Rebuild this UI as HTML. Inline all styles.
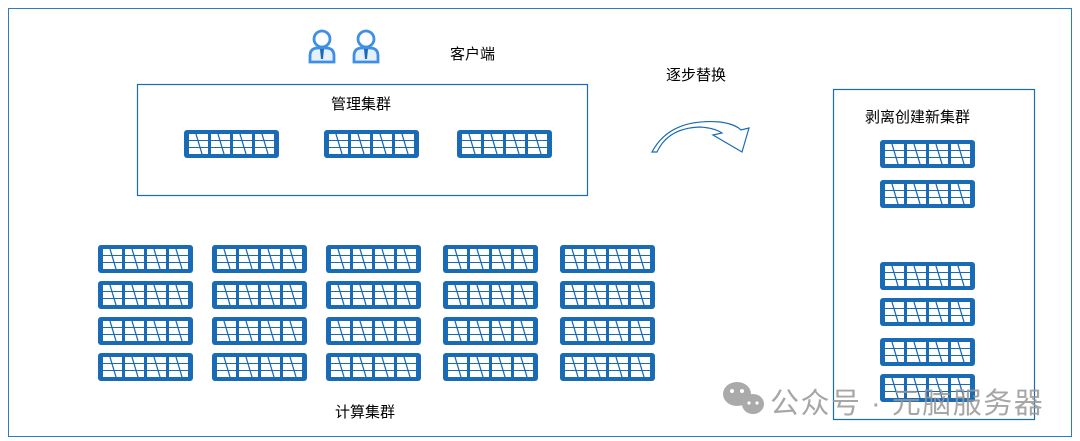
<!DOCTYPE html>
<html><head><meta charset="utf-8"><style>
body{margin:0;width:1080px;height:441px;background:#fff;position:relative;overflow:hidden;font-family:"Liberation Sans","Noto Sans CJK SC",sans-serif;}
.t{position:absolute;font-size:15px;color:#000;white-space:nowrap;}
</style></head><body>
<svg width="1080" height="441" style="position:absolute;left:0;top:0">
<defs>
<g id="s">
<rect x="0" y="0" width="95" height="28" rx="3" fill="#1a6bb5"/>
<g fill="#fff">
<rect x="5" y="4" width="19" height="6"/><rect x="27" y="4" width="19" height="6"/><rect x="49" y="4" width="19" height="6"/><rect x="71" y="4" width="19" height="6"/>
<rect x="5" y="11" width="19" height="6"/><rect x="27" y="11" width="19" height="6"/><rect x="49" y="11" width="19" height="6"/><rect x="71" y="11" width="19" height="6"/>
<rect x="5" y="18" width="19" height="6"/><rect x="27" y="18" width="19" height="6"/><rect x="49" y="18" width="19" height="6"/><rect x="71" y="18" width="19" height="6"/>
</g>
<g stroke="#1a6bb5" stroke-width="1.3">
<path d="M12 4 L18 24 M34 4 L40 24 M56 4 L62 24 M78 4 L84 24"/>
</g>
</g>
<g id="u">
<circle cx="14" cy="10" r="8" fill="#fff" stroke="#3d8fe8" stroke-width="2.8"/>
<path d="M2 33 V27 Q2 19 10 19 L18 19 Q26 19 26 27 V33 Z" fill="#e6f0fc" stroke="#3d8fe8" stroke-width="2.8"/>
<path d="M12 20 L16 20 L15 30 L13 30 Z" fill="#1a6bb5"/>
</g>
</defs>
<rect x="8.5" y="8.5" width="1063" height="428" fill="none" stroke="#2a7bc8" stroke-width="1"/>
<rect x="137.5" y="84.5" width="450" height="111" fill="none" stroke="#1a6bb5" stroke-width="1.2"/>
<rect x="833.5" y="89.5" width="201" height="330" fill="none" stroke="#1a6bb5" stroke-width="1.2"/>
<use href="#u" x="308" y="29"/><use href="#u" x="352" y="29"/>
<path d="M652 152 Q670 118 720 122 Q735 124 741 130 L749 128 L742 152 L713 135 L722 133 Q715 128 700 127 Q668 128 657 152 Z" fill="#fff" stroke="#1a6bb5" stroke-width="1.2"/>
<use href="#s" x="184" y="130"/><use href="#s" x="324" y="130"/><use href="#s" x="457" y="130"/>
<g>
<use href="#s" x="98" y="245"/><use href="#s" x="212" y="245"/><use href="#s" x="326" y="245"/><use href="#s" x="443" y="245"/><use href="#s" x="560" y="245"/>
<use href="#s" x="98" y="281"/><use href="#s" x="212" y="281"/><use href="#s" x="326" y="281"/><use href="#s" x="443" y="281"/><use href="#s" x="560" y="281"/>
<use href="#s" x="98" y="317"/><use href="#s" x="212" y="317"/><use href="#s" x="326" y="317"/><use href="#s" x="443" y="317"/><use href="#s" x="560" y="317"/>
<use href="#s" x="98" y="353"/><use href="#s" x="212" y="353"/><use href="#s" x="326" y="353"/><use href="#s" x="443" y="353"/><use href="#s" x="560" y="353"/>
</g>
<use href="#s" x="880" y="140"/><use href="#s" x="880" y="180"/><use href="#s" x="880" y="262"/><use href="#s" x="880" y="298"/><use href="#s" x="880" y="338"/><use href="#s" x="880" y="374"/>
<g fill="#aaa"><ellipse cx="737" cy="394" rx="14" ry="12"/><ellipse cx="753" cy="404" rx="11" ry="10"/></g>
<g fill="#fff"><circle cx="732" cy="391" r="2"/><circle cx="742" cy="391" r="2"/><circle cx="749" cy="403" r="1.6"/><circle cx="757" cy="403" r="1.6"/></g>
</svg>
<div class="t" style="left:450px;top:43px">客户端</div>
<div class="t" style="left:331px;top:93px">管理集群</div>
<div class="t" style="left:666px;top:64px">逐步替换</div>
<div class="t" style="left:865px;top:106px">剥离创建新集群</div>
<div class="t" style="left:335px;top:401px">计算集群</div>
<div class="t" style="left:770px;top:380px;font-size:29px;letter-spacing:1.5px;color:rgba(150,150,150,0.85)">公众号 · 元脑服务器</div>
</body></html>
